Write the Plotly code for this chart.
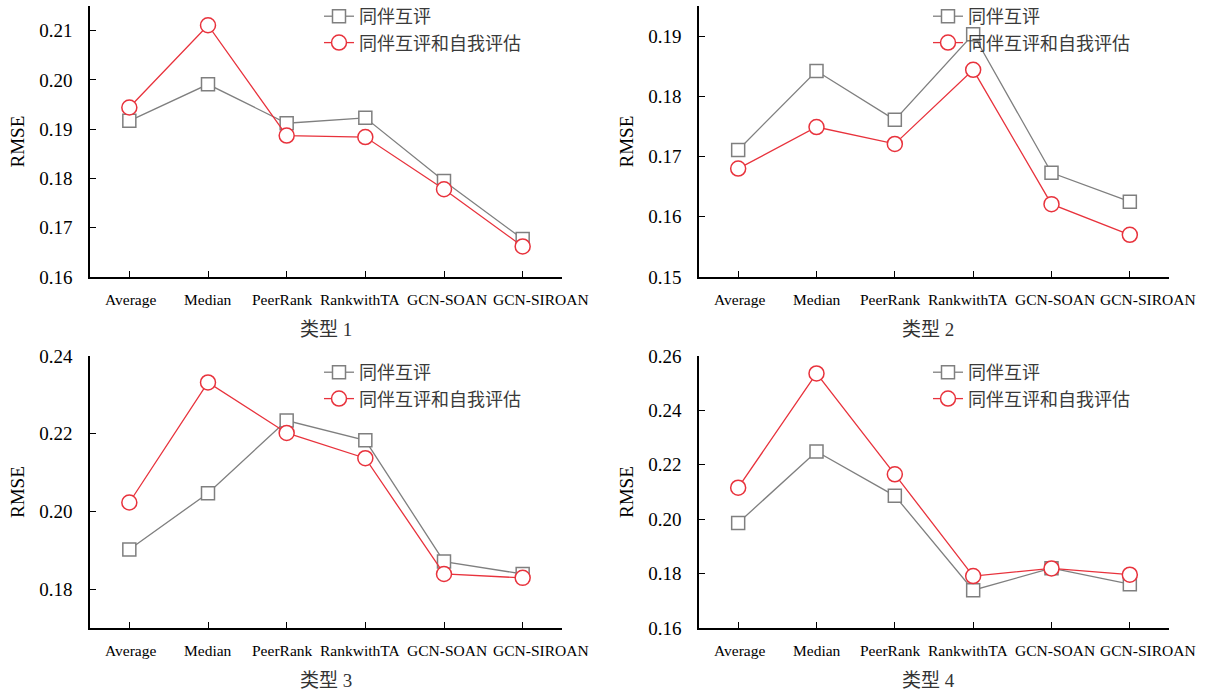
import plotly.graph_objects as go

# Methods compared on the x axis
methods = ["Average", "Median", "PeerRank", "RankwithTA", "GCN-SOAN", "GCN-SIROAN"]

# RMSE per setting, for peer review only and peer + self assessment
peer_t1 = [0.1917, 0.1991, 0.1912, 0.1923, 0.1795, 0.1677]
both_t1 = [0.1944, 0.2111, 0.1887, 0.1884, 0.1778, 0.1662]

peer_t2 = [0.1711, 0.1842, 0.1761, 0.1903, 0.1673, 0.1625]
both_t2 = [0.1680, 0.1749, 0.1721, 0.1844, 0.1621, 0.1570]

peer_t3 = [0.1902, 0.2047, 0.2234, 0.2183, 0.1871, 0.1839]
both_t3 = [0.2023, 0.2332, 0.2202, 0.2137, 0.1839, 0.1829]

peer_t4 = [0.1986, 0.2249, 0.2086, 0.1739, 0.1820, 0.1761]
both_t4 = [0.2116, 0.2536, 0.2165, 0.1791, 0.1819, 0.1796]

series_names = ["同伴互评", "同伴互评和自我评估"]
panel_titles = ["类型 1", "类型 2", "类型 3", "类型 4"]
y_ranges = [[0.16, 0.215], [0.15, 0.195], [0.17, 0.24], [0.16, 0.26]]
y_dticks = [0.01, 0.01, 0.02, 0.02]
y_tick0 = [0.16, 0.15, 0.18, 0.16]

peer_all = [peer_t1, peer_t2, peer_t3, peer_t4]
both_all = [both_t1, both_t2, both_t3, both_t4]

# horizontal nudges (px) so the long method names don't collide
label_nudge = [1, 0, -4, -5, 3, 18]

GRAY = "#7f7f7f"
RED = "#e8323c"
SERIF = "Liberation Serif, Times New Roman, serif"
CJK = "Liberation Serif, Noto Sans CJK SC, sans-serif"

W, H = 1225, 690
# panel boxes in pixels: (left, right, top, bottom)
boxes = [(90, 562, 6, 277), (699, 1169, 6, 277),
         (90, 562, 356, 628), (699, 1169, 356, 628)]
# caption offset from the panel centre
caption_dx = [0, -6, 0, -6]

fig = go.Figure()
layout = {}
annotations = []

for i in range(4):
    n = "" if i == 0 else str(i + 1)
    leg = "legend" + n
    l, r, t, b = boxes[i]
    for vals, name, color, sym, msize in [
        (peer_all[i], series_names[0], GRAY, "square", 13),
        (both_all[i], series_names[1], RED, "circle", 15),
    ]:
        fig.add_trace(go.Scatter(
            x=methods, y=vals, name=name, mode="lines+markers",
            xaxis="x" + n, yaxis="y" + n, legend=leg,
            line=dict(color=color, width=1.3),
            marker=dict(symbol=sym, size=msize, color="white",
                        line=dict(color=color, width=1.5)),
        ))

    layout["xaxis" + n] = dict(
        domain=[l / W, r / W], anchor="y" + n, automargin=False,
        type="category", range=[-0.5, 5.5], showticklabels=False,
        showline=True, linecolor="black", linewidth=1.5,
        ticks="inside", ticklen=6, tickcolor="black", tickwidth=1.2,
        showgrid=False, zeroline=False,
    )
    layout["yaxis" + n] = dict(
        domain=[1 - b / H, 1 - t / H], anchor="x" + n, automargin=False,
        range=y_ranges[i], tick0=y_tick0[i], dtick=y_dticks[i],
        tickformat=".2f",
        showline=True, linecolor="black", linewidth=1.5,
        ticks="inside", ticklen=6, tickcolor="black", tickwidth=1.2,
        showgrid=False, zeroline=False,
        tickfont=dict(family=SERIF, size=19, color="black"),
        ticklabelstandoff=12,
    )
    layout[leg] = dict(
        x=(l + 229) / W, y=(1 + 2 / H) if i < 2 else 1 - (t - 2) / H,
        xanchor="left", yanchor="top",
        bgcolor="rgba(0,0,0,0)", borderwidth=0,
        font=dict(family="Noto Sans CJK SC", size=18, color="#3a3a3a"),
        tracegroupgap=0, itemwidth=30,
    )

    # method names under the category ticks
    for m, dx in zip(methods, label_nudge):
        annotations.append(dict(
            text=m, xref="x" + n, yref="y" + n + " domain",
            x=m, y=0, xanchor="center", yanchor="middle",
            xshift=dx, yshift=-22, showarrow=False,
            font=dict(family=SERIF, size=15.5, color="black"),
        ))
    annotations.append(dict(
        text="RMSE", textangle=-90, xref="paper", yref="paper",
        x=(l - 73) / W, y=1 - ((t + b) / 2) / H,
        xanchor="center", yanchor="middle", showarrow=False,
        font=dict(family=SERIF, size=19, color="black"),
    ))
    annotations.append(dict(
        text=panel_titles[i], xref="paper", yref="paper",
        x=((l + r) / 2 + caption_dx[i]) / W, y=1 - (b + 52) / H,
        xanchor="center", yanchor="middle", showarrow=False,
        font=dict(family=CJK, size=19, color="#333333"),
    ))

fig.update_layout(
    width=W, height=H,
    margin=dict(l=0, r=0, t=0, b=0, autoexpand=False),
    paper_bgcolor="white", plot_bgcolor="white",
    annotations=annotations,
    **layout,
)

fig.write_html("out.html")
